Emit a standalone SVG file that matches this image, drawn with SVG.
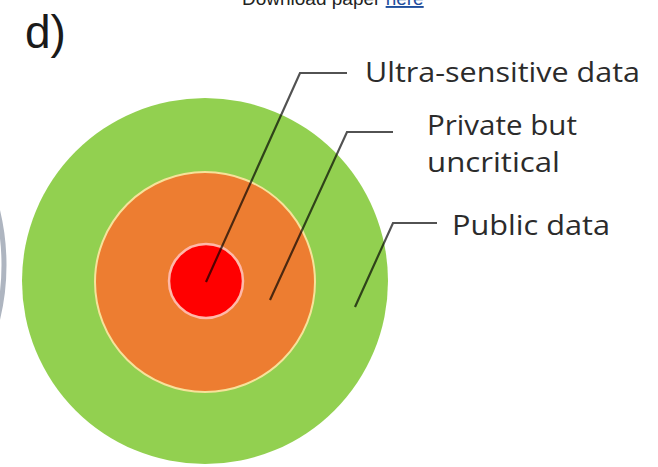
<svg xmlns="http://www.w3.org/2000/svg" width="658" height="467" viewBox="0 0 658 467">
<style>
.lbl{font-family:"Open Sans","Liberation Sans",sans-serif;font-size:27px;fill:#2b2b2b}
.lead{fill:none;stroke:#000;stroke-opacity:0.68;stroke-width:2.2;stroke-linejoin:miter}
</style>
<rect width="658" height="467" fill="#fff"/>
<g id="header">
<text x="242" y="5" font-family="'Liberation Sans',sans-serif" font-size="19" fill="#222">Download paper <tspan fill="#1f4e9c" text-decoration="underline">here</tspan></text>
<text x="25" y="48" font-family="'Liberation Sans',Arial,sans-serif" font-size="46" fill="#1a1a1a">d)</text>
</g>
<g id="neighbor">
<circle cx="-228" cy="265" r="232" fill="#fff" stroke="#aeb5c0" stroke-width="5"/>
</g>
<g id="public">
<circle cx="205" cy="281" r="183" fill="#92d050"/>
</g>
<g id="private">
<circle cx="205" cy="282" r="110" fill="#ed7d31" stroke="#f6e29a" stroke-width="2"/>
</g>
<g id="ultra">
<circle cx="206" cy="281" r="37" fill="#ff0000" stroke="#ffb8a8" stroke-width="2.5"/>
</g>
<g id="connectors">
<polyline class="lead" points="206,282 300,73 347,73"/>
<polyline class="lead" points="270,300 347,132 393,132"/>
<polyline class="lead" points="355,307 393,223 437,223"/>
</g>
<g id="labels">
<text class="lbl" x="365" y="82" textLength="275" lengthAdjust="spacingAndGlyphs">Ultra-sensitive data</text>
<text class="lbl" x="427" y="135" textLength="150" lengthAdjust="spacingAndGlyphs">Private but</text>
<text class="lbl" x="427" y="172" textLength="133" lengthAdjust="spacingAndGlyphs">uncritical</text>
<text class="lbl" x="452" y="235" textLength="158" lengthAdjust="spacingAndGlyphs">Public data</text>
</g>
</svg>
